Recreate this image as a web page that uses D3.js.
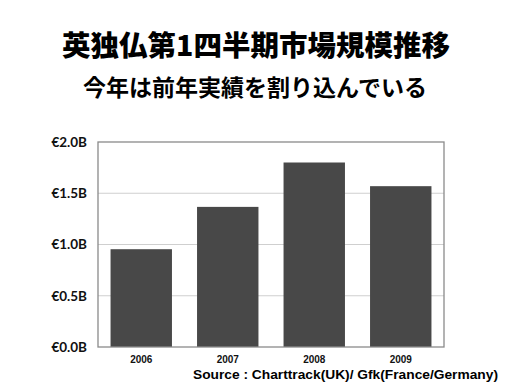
<!DOCTYPE html>
<html><head><meta charset="utf-8">
<script src="https://cdn.jsdelivr.net/npm/d3@7/dist/d3.min.js"></script>
<style>body{margin:0;background:#fff}svg{display:block}</style>
</head><body>
<svg id="c" width="512" height="384"></svg>
<script>
const title = "英独仏第1四半期市場規模推移";
const subtitle = "今年は前年実績を割り込んでいる";
const years = ["2006", "2007", "2008", "2009"];
const values = [0.954, 1.367, 1.80, 1.569];
const yTicks = [0, 0.5, 1.0, 1.5, 2.0];
const source = "Source : Charttrack(UK)/ Gfk(France/Germany)";

const svg = d3.select("#c");
const L = 98, R = 444, T = 142, B = 347;
const x = d3.scaleBand().domain(years).range([L, R]).paddingInner(0.29).paddingOuter(0.145);
const y = d3.scaleLinear().domain([0, 2]).range([B, T]);

svg.append("text").attr("x", 256).attr("y", 56).attr("text-anchor", "middle")
  .attr("font-family", "'Noto Sans CJK JP'").attr("font-weight", 900).attr("font-size", 28.5)
  .attr("fill", "#000").text(title);
svg.append("text").attr("x", 255).attr("y", 96).attr("text-anchor", "middle")
  .attr("font-family", "'Noto Sans CJK JP'").attr("font-weight", 700).attr("font-size", 23)
  .attr("fill", "#000").text(subtitle);

// grid
svg.append("g").selectAll("line").data(yTicks.filter(d => d > 0 && d < 2)).join("line")
  .attr("x1", L).attr("x2", R).attr("y1", d => y(d)).attr("y2", d => y(d))
  .attr("stroke", "#cfcfcf").attr("stroke-width", 1);

// bars
svg.append("g").selectAll("rect").data(values).join("rect")
  .attr("x", (d, i) => x(years[i])).attr("width", x.bandwidth())
  .attr("y", d => y(d)).attr("height", d => B - y(d))
  .attr("fill", "#484848");

// frame
svg.append("rect").attr("x", L).attr("y", T).attr("width", R - L).attr("height", B - T)
  .attr("fill", "none").attr("stroke", "#8a8a8a").attr("stroke-width", 1.3);

// y axis
const yAxis = d3.axisLeft(y).tickValues(yTicks).tickSize(0).tickPadding(11)
  .tickFormat(d => "€" + d.toFixed(1) + "B");
const gy = svg.append("g").attr("transform", `translate(${L},0)`).call(yAxis);
gy.select(".domain").remove();
gy.selectAll("text").attr("font-family", "Lato").attr("font-size", 13.5).attr("font-weight", 700).attr("fill", "#111");

// x axis
const xAxis = d3.axisBottom(x).tickSize(0).tickPadding(8.5);
const gx = svg.append("g").attr("transform", `translate(0,${B})`).call(xAxis);
gx.select(".domain").remove();
gx.selectAll("text").attr("font-family", "'Liberation Sans'").attr("font-size", 10).attr("font-weight", 700).attr("fill", "#111");

svg.append("text").attr("x", 193).attr("y", 379).attr("textLength", 305).attr("lengthAdjust", "spacingAndGlyphs")
  .attr("font-family", "'Liberation Sans'").attr("font-size", 13).attr("font-weight", 700).attr("fill", "#000").text(source);
</script>
</body></html>
